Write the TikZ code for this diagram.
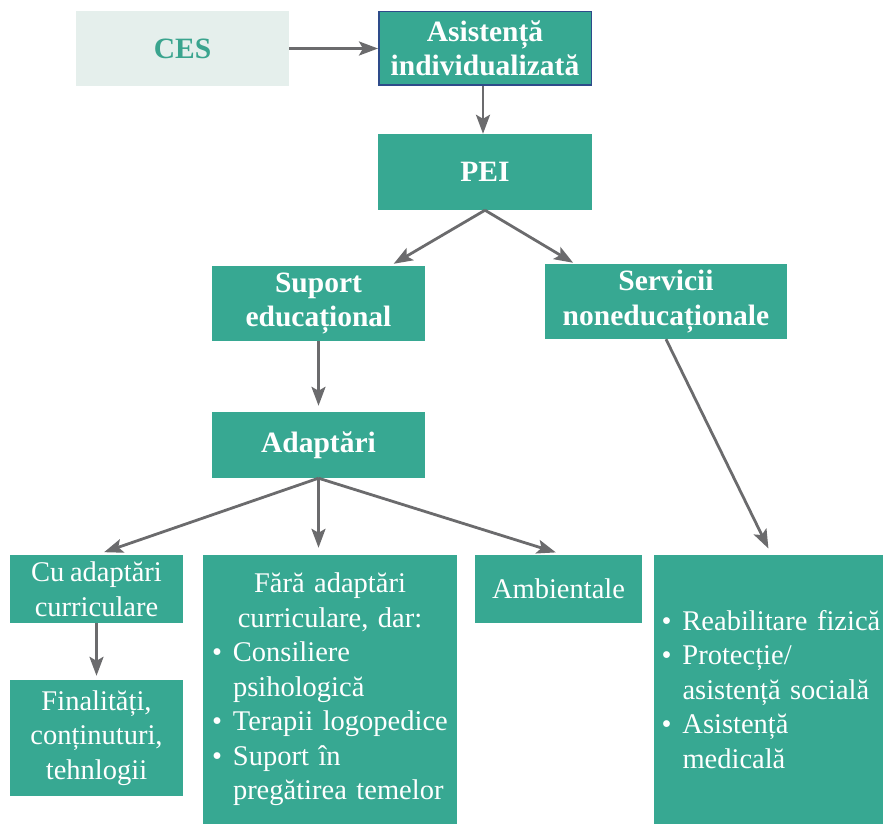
\documentclass[tikz,border=0pt]{standalone}
\usepackage{fontspec}
\setmainfont{Liberation Serif}[WordSpace=0.8]
\usetikzlibrary{arrows.meta,calc}
\hyphenpenalty=10000
\exhyphenpenalty=10000
\definecolor{tealbox}{HTML}{37A892}
\definecolor{cesbg}{HTML}{E5EFEC}
\definecolor{cestext}{HTML}{3AA48E}
\definecolor{arrowgray}{HTML}{6B6B6D}
\definecolor{asistborder}{HTML}{2E4B8A}
\newcommand{\bul}{\makebox[21pt][l]{\textbullet}}
\newcommand{\ind}{\hspace*{21pt}}
\begin{document}
\begin{tikzpicture}[x=1pt,y=-1pt,
  txt/.style={font=\fontsize{28.5}{34.5}\selectfont},
  tbox/.style={txt,fill=tealbox,text=white,inner sep=0pt,align=center},
  hbox/.style={tbox,font=\fontsize{29.5}{34.5}\selectfont\bfseries},
  conn/.style={draw=arrowgray,line width=2.8pt,-{Stealth[length=19pt,width=14pt,inset=4pt]}}]
\useasboundingbox (0,0) rectangle (883,824);
\node[txt,font=\fontsize{29.5}{34.5}\selectfont\bfseries,fill=cesbg,text=cestext,inner sep=0pt,minimum width=213pt,minimum height=75pt] (ces) at (182.5,48.5) {CES};
\node[hbox,draw=asistborder,line width=1.5pt,minimum width=212.5pt,minimum height=73.5pt] (asist) at (485,48.5) {Asistență\\individualizată};
\node[hbox,minimum width=214pt,minimum height=76pt] (pei) at (485,172) {PEI};
\node[hbox,minimum width=213pt,minimum height=75pt] (sup) at (318.5,303.5) {Suport\\educațional};
\node[hbox,minimum width=242pt,minimum height=75pt] (serv) at (666,301.5) {Servicii\\noneducaționale};
\node[hbox,minimum width=213pt,minimum height=66pt] (adapt) at (318.5,445) {Adaptări};
\node[tbox,minimum width=173pt,minimum height=68pt] (cu) at (96.5,589) {Cu adaptări\\curriculare};
\node[tbox,minimum width=173pt,minimum height=116pt] (fin) at (96.5,738) {Finalități,\\conținuturi,\\tehnlogii};
\node[tbox,align=left,text width=236pt,minimum width=254pt,minimum height=269pt] (fara) at (330,689.5)
 {\makebox[236pt][c]{Fără adaptări}\\
  \makebox[236pt][c]{curriculare, dar:}\\
  \bul Consiliere\\
  \ind psihologică\\
  \bul Terapii logopedice\\
  \bul Suport în\\
  \ind pregătirea temelor};
\node[tbox,minimum width=167pt,minimum height=68pt] (amb) at (558.5,589) {Ambientale};
\node[tbox,align=left,text width=214pt,minimum width=229pt,minimum height=269pt] (servlist) at (768.5,689.5)
 {\mbox{\bul Reabilitare fizică}\\
  \bul Protecție/\\
  \ind asistență socială\\
  \bul Asistență\\
  \ind medicală};
\draw[conn] (ces.east) -- (asist.west);
\draw[conn] ([xshift=-2pt]asist.south) -- ([xshift=-2pt]pei.north);
\draw[conn,shorten >=4pt] (pei.south) -- ($(sup.north west)!0.836!(sup.north east)$);
\draw[conn,shorten >=2pt] (pei.south) -- ($(serv.north west)!0.124!(serv.north east)$);
\draw[conn,shorten >=6pt] (sup.south) -- (adapt.north);
\draw[conn,shorten >=8pt] (adapt.south) -- (cu.north);
\draw[conn,shorten >=7pt] (adapt.south) -- (adapt.south |- fara.north);
\draw[conn,shorten >=8pt] (adapt.south) -- ([xshift=5pt]amb.north);
\draw[conn,shorten >=7pt] (serv.south) -- ([xshift=3pt]servlist.north);
\draw[conn,shorten >=4pt] (cu.south) -- (fin.north);
\end{tikzpicture}
\end{document}
